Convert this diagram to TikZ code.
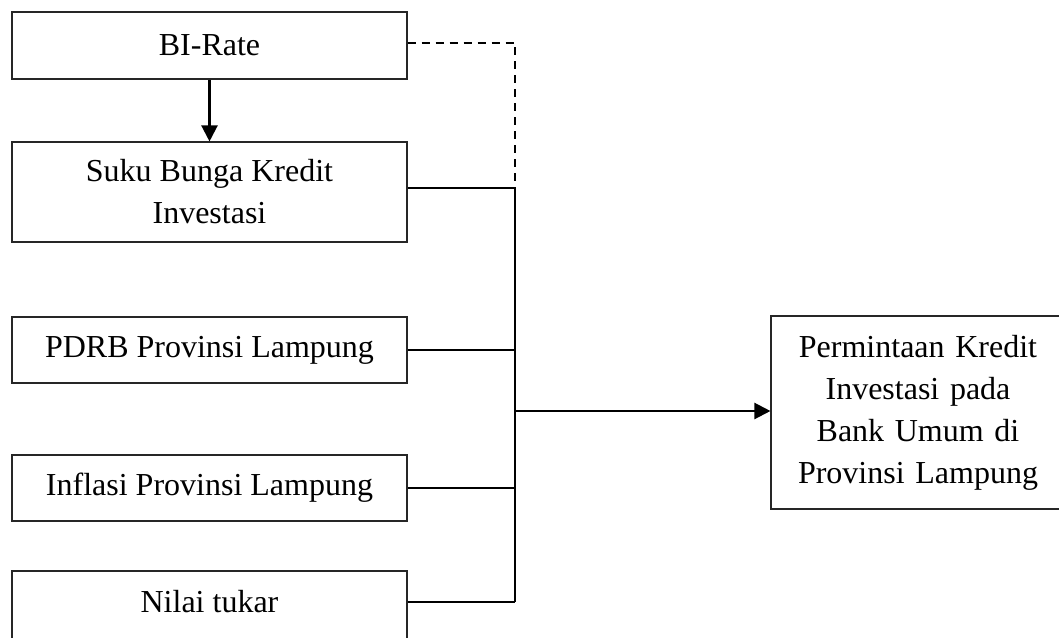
\documentclass[tikz,border=0pt]{standalone}
\usepackage{fontspec}
\setmainfont{Liberation Serif}
\usetikzlibrary{arrows.meta}
\begin{document}
\begin{tikzpicture}[x=1pt,y=-1pt,
  box/.style={draw=black!85,line width=1.1pt,minimum width=395pt,inner sep=0pt,align=center,
    font=\fontsize{32}{42}\selectfont},
  conn/.style={line width=2.2pt,black},
  tip/.style={-{Triangle[length=16pt,width=16pt]}}]
\useasboundingbox (0,0) rectangle (1059,637);
\node[box,minimum height=67pt] (bi) at (209.5,45.5) {BI-Rate};
\node[box,minimum height=100pt] (suku) at (209.5,192) {Suku Bunga Kredit\\Investasi};
\node[box,minimum height=66pt] (pdrb) at (209.5,350) {PDRB Provinsi Lampung};
\node[box,minimum height=66pt] (infl) at (209.5,488) {Inflasi Provinsi Lampung};
\node[box,minimum height=80pt] (nilai) at (209.5,611) {\raisebox{20pt}{Nilai tukar}};
\node[box,minimum width=294pt,minimum height=193pt,text width=288pt] (dep) at (918,412.5)
  {Permintaan Kredit\\Investasi pada\\Bank Umum di\\Provinsi Lampung};
\coordinate (jt) at (515,188);
\coordinate (jb) at (515,602);
\coordinate (jm) at (515,411);
\draw[conn,tip] (bi.south) -- (suku.north);
\draw[conn,line width=2pt,dash pattern=on 8pt off 6pt] ([yshift=3pt]bi.east) -| (jt);
\draw[conn] ([yshift=4pt]suku.east) -- (jt) -- (jb);
\draw[conn] (pdrb.east) -- (pdrb.east -| jt);
\draw[conn] (infl.east) -- (infl.east -| jt);
\draw[conn] ([yshift=9pt]nilai.east) -- (jb);
\draw[conn,tip] (jm) -- (dep.west |- jm);
\end{tikzpicture}
\end{document}
